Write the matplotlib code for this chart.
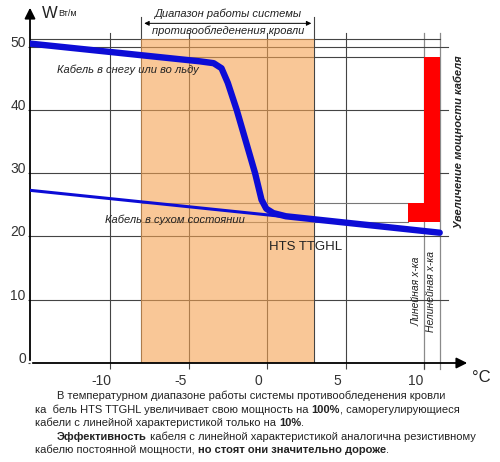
import matplotlib
matplotlib.use('Agg')
import matplotlib.pyplot as plt

plt.rcParams['font.family'] = ['Liberation Sans', 'DejaVu Sans']

# -----------------------------------------------------------------------------------------+
# data
nonlin_x = [-15.1, -4.3, -3.4, -2.9, -2.5, -1.93, -0.76, -0.35, -0.05, 0.4, 1.2, 11.0]
nonlin_y = [50.5, 47.7, 47.4, 46.6, 44.3, 40.0, 30.0, 25.8, 24.4, 23.7, 23.2, 20.6]

lin_x = [-15.1, 11.0]
lin_y = [27.3, 20.6]

range_lo, range_hi = -8, 3            # working range of the anti-icing system
bar_left = [9, 10]
bar_bottom = [22.3, 22.3]
bar_top = [25.3, 48.3]

xticks = [-10, -5, 0, 5, 10]
yticks = [0, 10, 20, 30, 40, 50]

para = [
    [('В температурном диапазоне работы системы противообледенения кровли', False)],
    [('ка  бель HTS TTGHL увеличивает свою мощность на ', False), ('100%', True),
     (', саморегулирующиеся', False)],
    [('кабели с линейной характеристикой только на ', False), ('10%', True), ('.', False)],
    [('Эффективность', True), (' кабеля с линейной характеристикой аналогична резистивному', False)],
    [('кабелю постоянной мощности, ', False), ('но стоят они значительно дороже', True),
     ('.', False)],
]
para_indent = [57, 35, 35, 57, 35]
para_y = [396, 410, 423, 437, 450]

# -----------------------------------------------------------------------------------------+
fig = plt.figure(figsize=(5, 4.62), dpi=100)
ax = fig.add_axes([30 / 500, 99 / 462, 440 / 500, 358 / 462])
xmin, xmax = -15.1, 12.93
ymin, ymax = 0, 56.6
ax.set_xlim(xmin, xmax)
ax.set_ylim(ymin, ymax)
for s in ax.spines.values():
    s.set_visible(False)

grid_c = '#444444'
# grid
for v in xticks[:-1]:
    ax.plot([v, v], [0, 52.2], color=grid_c, lw=0.8, zorder=1)
for v in [10, 11]:
    ax.plot([v, v], [-0.9, 52.2], color='#8a8a8a', lw=0.9, zorder=1, clip_on=False)
for v in [range_lo, range_hi]:
    ax.plot([v, v], [0, 54.7], color=grid_c, lw=0.8, zorder=1)
for v in yticks[1:]:
    ax.plot([xmin, 11.5], [v, v], color=grid_c, lw=0.8, zorder=1)
ax.plot([xmin, 11], [51.3, 51.3], color=grid_c, lw=0.8, zorder=1)
ax.plot([range_lo, 10], [bar_top[1], bar_top[1]], color=grid_c, lw=0.8, zorder=1)
ax.plot([range_lo, 9], [bar_top[0], bar_top[0]], color='#777777', lw=0.8, zorder=1)
ax.plot([range_lo, 9], [bar_bottom[0], bar_bottom[0]], color='#777777', lw=0.8, zorder=1)

# orange working range
ax.fill_between([range_lo, range_hi], 0, 51.3, color='#f5a352', alpha=0.6, lw=0, zorder=2)

# red bars
for l, b, t in zip(bar_left, bar_bottom, bar_top):
    ax.bar(l, t - b, width=1, bottom=b, align='edge', color='#ff0000', lw=0, zorder=3)

# cable lines
ax.plot(lin_x, lin_y, color='#0c0cd6', lw=2.2, solid_capstyle='round', zorder=4)
ax.plot(nonlin_x, nonlin_y, color='#0c0cd6', lw=4.6, solid_capstyle='round',
        solid_joinstyle='round', zorder=5)

# axes with arrows
ax.annotate('', xy=(xmax, 0), xytext=(xmin, 0), annotation_clip=False,
            arrowprops=dict(arrowstyle='-|>', color='black', lw=1.3, mutation_scale=16))
ax.annotate('', xy=(xmin, ymax), xytext=(xmin, 0), annotation_clip=False,
            arrowprops=dict(arrowstyle='-|>', color='black', lw=1.3, mutation_scale=16))

ax.set_xticks(xticks)
ax.set_yticks(yticks)
ax.tick_params(axis='x', direction='out', length=4.5, width=0.8, color=grid_c, labelbottom=False)
ax.tick_params(axis='y', direction='out', length=1.5, width=0.8, color=grid_c, labelleft=False)
for v in xticks:
    ax.annotate(str(v), xy=(v, 0), xytext=(-6, -13), textcoords='offset points',
                ha='center', va='center', fontsize=10, color='#333333', annotation_clip=False)
for v in yticks:
    ax.annotate(str(v), xy=(xmin, v), xytext=(-3, 3), textcoords='offset points',
                ha='right', va='center', fontsize=10, color='#333333', annotation_clip=False)

# axis labels
fig.text(42 / 500, 1 - 13 / 462, 'W', fontsize=12, color='#222222', va='center')
fig.text(58 / 500, 1 - 14 / 462, 'Вт/м', fontsize=6.5, color='#222222', va='center')
fig.text(472 / 500, 1 - 378 / 462, '°C', fontsize=12, color='#222222', va='center')

# range bracket
ax.annotate('', xy=(range_lo, 53.7), xytext=(range_hi, 53.7), annotation_clip=False,
            arrowprops=dict(arrowstyle='<|-|>', color='black', lw=0.7, mutation_scale=7))
mid = (range_lo + range_hi) / 2
ax.text(mid, 55.2, 'Диапазон работы системы', style='italic', fontsize=8, color='#222222',
        ha='center', va='center', clip_on=False)
ax.text(mid, 52.5, 'противообледенения кровли', style='italic', fontsize=8, color='#222222',
        ha='center', va='center', clip_on=False, zorder=6)

# curve labels
ax.text(-13.4, 46.3, 'Кабель в снегу или во льду', style='italic', fontsize=8, color='#222222',
        va='center', zorder=6)
ax.text(-10.3, 22.6, 'Кабель в сухом состоянии', style='italic', fontsize=8, color='#222222',
        va='center', zorder=6)
ax.text(0.1, 18.4, 'HTS TTGHL', fontsize=9.5, color='#222222', va='center', zorder=6)
ax.text(9.5, 11.4, 'Линейная х-ка', style='italic', fontsize=7.5, color='#222222', rotation=90,
        ha='center', va='center', zorder=6)
ax.text(10.45, 11.3, 'Нелинейная х-ка', style='italic', fontsize=7.5, color='#222222', rotation=90,
        ha='center', va='center', zorder=6)
ax.text(12.2, 35.0, 'Увеличение мощности кабеля', style='italic', weight='bold', fontsize=8,
        color='#222222', rotation=90, ha='center', va='center', clip_on=False)

# paragraph with bold parts
renderer = fig.canvas.get_renderer()
for segs, x0, y0 in zip(para, para_indent, para_y):
    x = x0
    for txt, bold in segs:
        t = fig.text(x / 500, 1 - y0 / 462, txt, fontsize=8, color='#222222', va='center',
                     weight='bold' if bold else 'normal')
        x += t.get_window_extent(renderer).width

fig.savefig('out.png', dpi=100)
